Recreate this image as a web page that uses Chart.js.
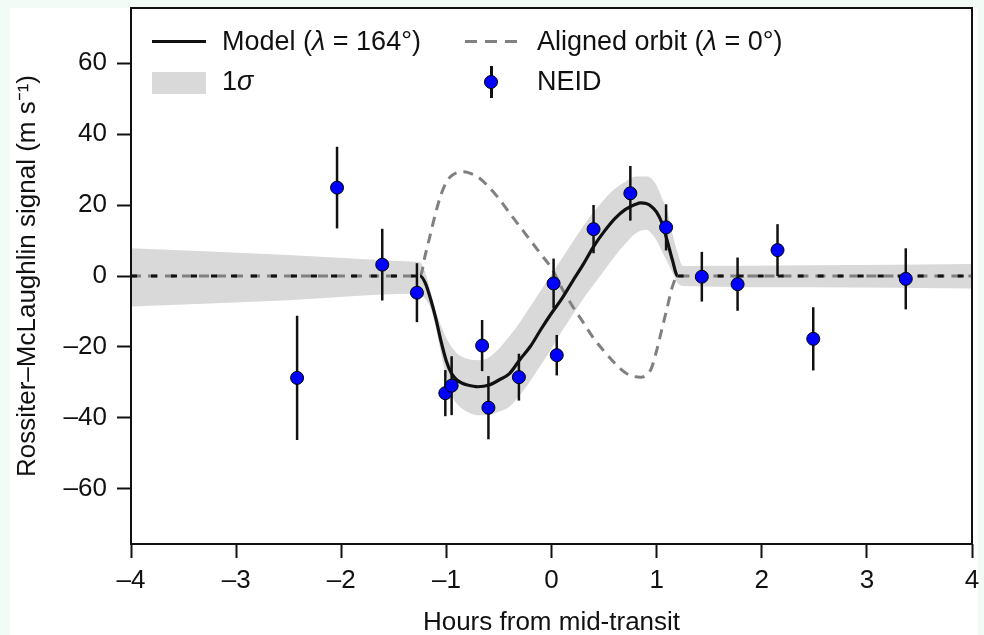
<!DOCTYPE html>
<html>
<head>
<meta charset="utf-8">
<script src="https://cdn.jsdelivr.net/npm/chart.js@4"></script>
<style>
  html, body { margin: 0; padding: 0; background: #f2fbf6; }
  #wrap { position: relative; width: 984px; height: 635px; }
  #legend { position: absolute; left: 0; top: 0; font-family: "Liberation Sans", Arial, sans-serif; font-size: 27px; color: #111; }
  #legend .txt { position: absolute; white-space: nowrap; line-height: 27px; }
  #legend .sw { position: absolute; }
</style>
</head>
<body>
<div id="wrap">
  <canvas id="rm-chart" width="984" height="635"></canvas>
  <div id="legend">
    <div class="sw" style="left:152px; top:40px; width:54px; height:3px; background:#111;"></div>
    <div class="txt" style="left:222px; top:28px;">Model (<i>λ</i> = 164°)</div>
    <div class="sw" style="left:465px; top:40px; width:56px; height:3px; background:repeating-linear-gradient(90deg, #808080 0 12px, transparent 12px 20px);"></div>
    <div class="txt" style="left:537px; top:28px;">Aligned orbit (<i>λ</i> = 0°)</div>
    <div class="sw" style="left:152px; top:72px; width:54px; height:22px; background:#d9d9d9;"></div>
    <div class="txt" style="left:222px; top:68px;">1<i>σ</i></div>
    <div class="sw" style="left:490px; top:66px; width:3px; height:32px; background:#111;"></div>
    <div class="sw" style="left:484px; top:75px; width:12px; height:12px; border-radius:50%; background:#0000ff; border:1px solid #000;"></div>
    <div class="txt" style="left:537px; top:68px;">NEID</div>
  </div>
</div>
<script>
// NEID radial velocity anomalies
const obsHours = [-2.42, -2.04, -1.61, -1.28, -1.01, -0.95, -0.66, -0.60, -0.31, 0.02, 0.05, 0.40, 0.75, 1.09, 1.43, 1.77, 2.15, 2.49, 3.37];
const obsRV    = [-28.7, 24.9, 3.2, -4.7, -33.0, -30.9, -19.6, -37.1, -28.5, -2.1, -22.3, 13.2, 23.3, 13.7, -0.2, -2.3, 7.3, -17.7, -0.8];
const obsErr   = [17.5, 11.5, 10.1, 8.3, 6.5, 8.3, 7.2, 8.9, 6.6, 7.0, 5.7, 6.8, 7.7, 6.5, 7.0, 7.5, 7.3, 8.9, 8.6];

// best-fit model and aligned-orbit curve
const curveHours = [-4, -1.25, -1.2, -1.15, -1.1, -1.05, -1.0, -0.95, -0.9, -0.85, -0.8, -0.7, -0.6, -0.5, -0.4, -0.3, -0.2, -0.1, 0, 0.1, 0.2, 0.3, 0.4, 0.5, 0.6, 0.7, 0.8, 0.85, 0.9, 0.95, 1.0, 1.05, 1.1, 1.15, 1.2, 4];
const modelRV    = [0, 0, -2, -6.5, -12, -18.5, -24, -27.5, -29.3, -30.2, -30.7, -31.2, -30.8, -29.3, -27.5, -23.5, -19.8, -15, -10.5, -6.3, -1.5, 3.2, 8.3, 12.5, 16.1, 18.7, 20.2, 20.6, 20.4, 19.6, 18.0, 15, 10, 4.5, 0, 0];
const alignedRV  = [0, 0, 6, 12, 18, 23, 26.5, 28.3, 29.1, 29.4, 29.2, 27.9, 25.2, 21.8, 17.8, 13.9, 10, 6.1, 2.2, -3.5, -8.5, -13, -17.5, -21.2, -24.5, -27.2, -28.4, -28.5, -28, -26, -21, -15, -9, -3, 0, 0];

// 1 sigma envelope
const bandHours = [-4, -2.5, -1.3, -1.25, -1.2, -1.15, -1.1, -1.05, -1.0, -0.95, -0.9, -0.8, -0.7, -0.6, -0.5, -0.4, -0.3, -0.2, -0.1, 0, 0.1, 0.2, 0.3, 0.4, 0.5, 0.6, 0.7, 0.8, 0.9, 0.95, 1.0, 1.05, 1.1, 1.15, 1.2, 1.25, 2.5, 4];
const bandUpper = [7.8, 5.9, 4.0, 3.8, 1, -4.5, -10, -14, -17.5, -20, -21.8, -23.3, -23.7, -23, -20.5, -17, -13, -8.5, -4, 0.5, 5, 9.5, 14, 18, 21.5, 24.5, 26.5, 28, 28, 27.5, 25.5, 22, 18.5, 12, 6.5, 2.8, 3.0, 3.4];
const bandLower = [-8.6, -6.8, -5.0, -5.3, -6.5, -9, -14.5, -22, -28.5, -33.5, -36, -38.3, -39.2, -39.2, -38.2, -36.8, -33.5, -29.5, -25, -20.5, -15.5, -11, -6.5, -2.5, 1.5, 5.5, 9, 12, 13, 12, 10, 7, 4, 1, -2, -2.8, -3.2, -3.5];

const xTicks = [-4, -3, -2, -1, 0, 1, 2, 3, 4];
const yTicks = [-60, -40, -20, 0, 20, 40, 60];

const pts = (xs, ys) => xs.map((x, i) => ({ x: x, y: ys[i] }));
const dash = v => (v < 0 ? '\u2013' + Math.abs(v) : String(v));

const font = { family: '"Liberation Sans", Arial, sans-serif', size: 26 };
const ink = '#111';

const frame = {
    id: 'frame',
    beforeDraw(chart) {
        const ctx = chart.ctx;
        ctx.save();
        ctx.fillStyle = '#f2fbf6';
        ctx.fillRect(0, 0, chart.width, chart.height);
        ctx.fillStyle = '#ffffff';
        ctx.fillRect(10, 8, 968, chart.height - 8);
        ctx.restore();
    },
    afterDraw(chart) {
        const { left, right, top, bottom } = chart.chartArea;
        const ctx = chart.ctx;
        ctx.save();
        ctx.strokeStyle = '#111';
        ctx.lineWidth = 2;
        ctx.strokeRect(left, top, right - left, bottom - top);
        ctx.restore();
    }
};

// vertical error bars under the NEID points
const errorBars = {
    id: 'errorBars',
    beforeDatasetDraw(chart, args) {
        if (chart.data.datasets[args.index].label !== 'NEID') return;
        const { x, y } = chart.scales;
        const ctx = chart.ctx;
        ctx.save();
        ctx.strokeStyle = '#111';
        ctx.lineWidth = 2.5;
        obsHours.forEach((h, i) => {
            const px = x.getPixelForValue(h);
            ctx.beginPath();
            ctx.moveTo(px, y.getPixelForValue(obsRV[i] + obsErr[i]));
            ctx.lineTo(px, y.getPixelForValue(obsRV[i] - obsErr[i]));
            ctx.stroke();
        });
        ctx.restore();
    }
};

const flat = c => c.p0.parsed.y === 0 && c.p1.parsed.y === 0;

new Chart(document.getElementById('rm-chart').getContext('2d'), {
    type: 'scatter',
    data: {
        datasets: [
            {
                label: 'NEID',
                data: pts(obsHours, obsRV),
                backgroundColor: '#0000ff',
                borderColor: '#000',
                borderWidth: 1,
                pointRadius: 6.5,
                order: 0
            },
            {
                label: 'Model',
                type: 'line',
                data: pts(curveHours, modelRV),
                borderColor: '#111',
                borderWidth: 3.2,
                pointRadius: 0,
                cubicInterpolationMode: 'monotone',
                segment: { borderDash: c => (flat(c) ? [6, 14] : undefined) },
                order: 1
            },
            {
                label: 'Aligned orbit',
                type: 'line',
                data: pts(curveHours, alignedRV),
                borderColor: '#808080',
                borderWidth: 3,
                borderDash: [10, 7],
                pointRadius: 0,
                cubicInterpolationMode: 'monotone',
                order: 2
            },
            {
                label: 'upper',
                type: 'line',
                data: pts(bandHours, bandUpper),
                borderWidth: 0,
                pointRadius: 0,
                fill: false,
                cubicInterpolationMode: 'monotone',
                order: 4
            },
            {
                label: '1 sigma',
                type: 'line',
                data: pts(bandHours, bandLower),
                borderWidth: 0,
                pointRadius: 0,
                fill: '-1',
                backgroundColor: '#d9d9d9',
                cubicInterpolationMode: 'monotone',
                order: 3
            }
        ]
    },
    options: {
        responsive: false,
        animation: false,
        layout: { padding: { top: 8, right: 12, left: 0, bottom: 0 } },
        plugins: { legend: { display: false }, tooltip: { enabled: false } },
        scales: {
            x: {
                type: 'linear',
                min: -4,
                max: 4,
                afterBuildTicks: s => { s.ticks = xTicks.map(v => ({ value: v })); },
                afterFit: s => { s.height = 91; s.paddingLeft = 0; s.paddingRight = 0; },
                grid: { drawOnChartArea: false, tickLength: 14, tickWidth: 2, tickColor: '#111' },
                border: { display: false },
                ticks: { font: font, color: ink, padding: 7, maxRotation: 0, callback: v => dash(v) },
                title: { display: true, text: 'Hours from mid-transit', font: font, color: ink, padding: { top: 0, bottom: -3 } }
            },
            y: {
                type: 'linear',
                min: -75.5,
                max: 75.5,
                afterBuildTicks: s => { s.ticks = yTicks.map(v => ({ value: v })); },
                afterFit: s => { s.width = 131; s.paddingTop = 0; s.paddingBottom = 0; },
                grid: { drawOnChartArea: false, tickLength: 14, tickWidth: 2, tickColor: '#111' },
                border: { display: false },
                ticks: { font: font, color: ink, padding: 10, callback: v => dash(v) },
                title: { display: true, text: 'Rossiter\u2013McLaughlin signal (m s\u207B\u00B9)', font: font, color: ink, padding: { top: 12, bottom: 0 } }
            }
        }
    },
    plugins: [frame, errorBars]
});
</script>
</body>
</html>
